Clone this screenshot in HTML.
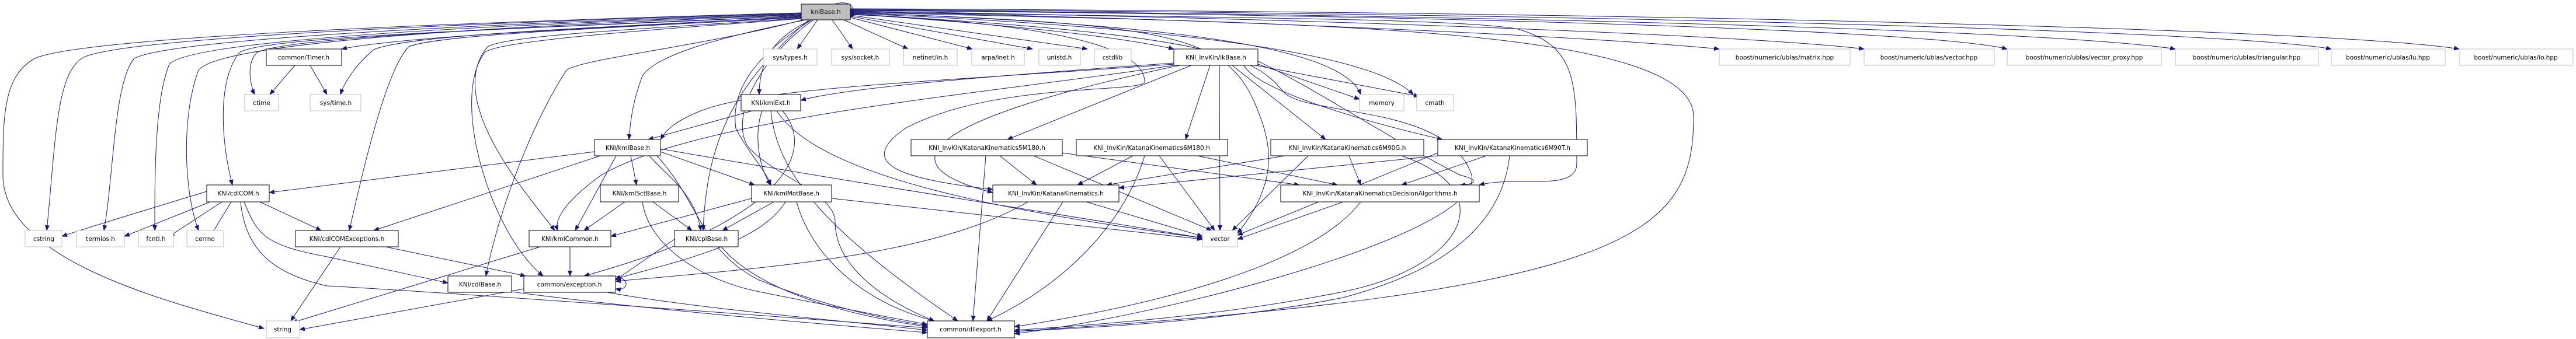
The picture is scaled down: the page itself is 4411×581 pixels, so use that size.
<!DOCTYPE html>
<html><head><meta charset="utf-8"><style>
html,body{margin:0;padding:0;background:#fff;}
svg{display:block;}
text{font-family:"DejaVu Sans","Liberation Sans",sans-serif;font-size:10.5px;fill:#000;text-anchor:middle;}
.e{fill:none;stroke:#191970;stroke-width:1;}
.n{fill:#fff;stroke:#000;stroke-width:1;}
.g{fill:#fff;stroke:#bfbfbf;stroke-width:1;}
</style></head><body>
<svg width="4411" height="581" viewBox="0 0 4411 581" xmlns="http://www.w3.org/2000/svg">
<defs><marker id="a" markerUnits="userSpaceOnUse" markerWidth="10" markerHeight="8" refX="9" refY="4" orient="auto"><path d="M0,0L10,4L0,8z" fill="#191970"/></marker></defs>
<g class="e" marker-end="url(#a)">
<path d="M1372,22C900,35 150,60 60,100C5,130 5,200 5,300C5,450 300,520 452,563"/>
<path d="M1372,23C900,36 200,62 140,100C95,130 95,250 80,395"/>
<path d="M1372,24C900,38 300,64 230,100C195,140 195,300 178,395"/>
<path d="M1372,25C900,40 330,66 290,110C265,170 265,300 265,395"/>
<path d="M1372,26C900,42 380,70 340,120C310,200 315,330 340,395"/>
<path d="M1372,27C1000,44 500,60 440,90C420,110 430,150 436,162"/>
<path d="M1372,28C1100,45 700,60 585,84"/>
<path d="M1372,29C1000,48 700,60 640,85C610,110 590,140 583,162"/>
<path d="M1372,27C1000,46 450,60 410,90C370,140 380,250 398,317"/>
<path d="M1372,30C1000,50 750,60 700,80C660,120 620,300 598,395"/>
<path d="M1372,31C1100,50 870,60 835,80C760,170 900,330 950,395"/>
<path d="M1372,32C1100,52 850,70 830,90C770,170 840,400 930,473"/>
<path d="M1375,34C1200,80 1000,100 970,120C900,230 850,380 832,473"/>
<path d="M1380,34C1200,70 1120,100 1100,130C1085,170 1080,200 1077,239"/>
<path d="M1390,34C1330,60 1300,100 1300,162"/>
<path d="M1390,34C1300,90 1250,150 1260,220C1280,260 1310,290 1320,317"/>
<path d="M1385,34C1250,150 1210,250 1204,395"/>
<path d="M1393,34C1300,100 1250,200 1280,250C1320,300 1430,330 1430,380C1430,450 1500,510 1600,550"/>
<path d="M1400,34L1365,84"/><path d="M1425,34L1460,84"/><path d="M1445,34L1555,84"/>
<path d="M1456,30L1665,84"/><path d="M1456,28L1768,84"/><path d="M1456,26L1862,84"/>
<path d="M1456,24C1700,40 1900,60 2010,84"/>
<path d="M1456,20C2000,30 2700,60 2944,84"/><path d="M1456,19C2200,30 3000,60 3192,84"/>
<path d="M1456,18C2400,25 3300,50 3437,84"/><path d="M1456,17C2500,25 3500,50 3725,84"/>
<path d="M1456,16C2600,22 3800,50 3992,84"/><path d="M1456,15C2800,20 4000,50 4211,84"/>
<path d="M1456,22C2000,40 2300,80 2330,162"/><path d="M1456,23C2000,45 2350,90 2420,162"/>
<path d="M1456,21C2200,40 2900,40 2900,200C2900,400 2800,500 1737,568"/>
<path d="M1456,20C2000,30 2500,30 2600,50C2700,80 2700,140 2700,280C2700,330 2600,300 2533,317"/>
<path d="M1456,25C1800,40 1960,80 1960,140C1960,160 1700,140 1550,220C1450,290 1580,310 1700,325"/>
<path d="M1456,24C2100,60 2150,100 2200,160C2250,200 2480,180 2520,300C2540,400 2000,540 1737,572"/>
<path d="M1456,22C2000,40 2100,60 2150,180C2170,230 2200,300 2119,400"/>
<path d="M1430,7C1450,0 1470,10 1456,30"/>
<path d="M505,112L462,162"/><path d="M531,112L560,162"/>
<path d="M2010,108C1700,130 1450,150 1371,172"/>
<path d="M2010,110C1600,140 1300,150 1200,190C1150,210 1140,225 1131,239"/>
<path d="M2040,112L1725,239"/><path d="M2072,112L2030,239"/><path d="M2110,112L2270,239"/>
<path d="M2130,112C2150,150 2300,200 2470,239"/><path d="M2088,112L2089,395"/>
<path d="M2154,110L2328,170"/><path d="M2150,112L2430,165"/>
<path d="M2020,112C1600,200 1500,280 1700,330"/>
<path d="M2154,105C2250,150 2400,250 2500,300C2540,310 2520,317 2500,317"/>
<path d="M2010,112C1700,160 1200,200 1030,300C960,350 950,380 955,395"/>
<path d="M1288,190L1110,239"/><path d="M1305,190C1290,230 1300,290 1320,317"/>
<path d="M1320,190C1330,300 1420,400 1640,550"/><path d="M1330,190C1400,300 1700,360 2060,408"/>
<path d="M1340,190C1400,260 1340,380 1000,473"/>
<path d="M1018,260L461,330"/><path d="M1028,267L640,395"/><path d="M1055,267L985,395"/>
<path d="M1080,267L1090,317"/><path d="M1112,267C1140,300 1190,330 1200,395"/>
<path d="M1131,260L1292,317"/><path d="M1131,255C1500,320 1900,380 2059,408"/>
<path d="M1125,267C1200,350 1200,430 1300,480C1400,520 1500,545 1588,558"/>
<path d="M354,328C250,360 150,390 106,405"/><path d="M360,346L213,405"/>
<path d="M380,346L290,405"/><path d="M396,346L360,405"/><path d="M445,346L550,395"/>
<path d="M418,346C440,400 450,420 560,440C650,460 700,470 767,485"/>
<path d="M412,346C420,430 470,470 560,490C750,500 1300,540 1588,562"/>
<path d="M1070,346L1000,395"/><path d="M1118,346L1185,395"/>
<path d="M1100,346C1110,420 1200,480 1300,500C1400,520 1500,540 1588,556"/>
<path d="M1287,340L1046,405"/><path d="M1325,346L1237,395"/>
<path d="M1345,346C1300,420 1150,450 1054,478"/><path d="M1364,346C1390,440 1480,520 1600,550"/>
<path d="M1424,340L2059,410"/>
<path d="M1155,410L1054,480"/><path d="M1235,423C1300,500 1450,540 1588,560"/>
<path d="M583,423L498,550"/><path d="M660,423L900,473"/>
<path d="M925,423L500,553"/><path d="M976,423L976,473"/>
<path d="M897,495L513,565"/><path d="M1040,501C1200,530 1450,550 1588,566"/>
<path d="M1040,473C1080,470 1080,500 1054,495"/>
<path d="M876,500C1100,530 1400,555 1588,570"/>
<path d="M1712,267L1775,317"/><path d="M1688,267L1666,550"/>
<path d="M1770,267L2075,395"/><path d="M1819,262L2225,317"/>
<path d="M1940,267L1845,317"/><path d="M1985,267L2080,395"/>
<path d="M1960,267C1920,400 1800,500 1690,550"/><path d="M2050,267L2290,317"/>
<path d="M2200,267L1895,317"/><path d="M2240,267L2110,395"/>
<path d="M2310,267L2330,317"/><path d="M2400,267C2580,330 2500,460 2300,500C2100,540 1900,555 1737,566"/>
<path d="M2462,267L1916,322"/><path d="M2545,267L2400,317"/>
<path d="M2585,267C2570,400 2450,470 2300,510C2100,550 1900,560 1737,568"/>
<path d="M2462,262L2119,403"/>
<path d="M1860,346L2059,405"/><path d="M1820,346L1690,550"/><path d="M1760,346C1600,440 1300,460 1054,482"/>
<path d="M2300,346L2119,410"/><path d="M2330,346C2250,450 2000,520 1737,560"/>
</g>
<rect x="1372" y="7" width="84" height="27" fill="#bfbfbf" stroke="#000"/><text x="1414" y="24">kniBase.h</text>
<g class="n">
<rect x="456" y="84" width="129" height="28"/><rect x="2010" y="84" width="144" height="28"/>
<rect x="1269" y="162" width="102" height="28"/><rect x="1018" y="239" width="113" height="28"/>
<rect x="1560" y="239" width="259" height="28"/><rect x="1843" y="239" width="259" height="28"/>
<rect x="2176" y="239" width="262" height="28"/><rect x="2462" y="239" width="256" height="28"/>
<rect x="354" y="317" width="107" height="29"/><rect x="1028" y="317" width="134" height="29"/>
<rect x="1287" y="317" width="137" height="29"/><rect x="1700" y="317" width="216" height="29"/>
<rect x="2193" y="317" width="340" height="29"/>
<rect x="506" y="395" width="176" height="28"/><rect x="906" y="395" width="140" height="28"/>
<rect x="1155" y="395" width="109" height="28"/>
<rect x="767" y="473" width="109" height="28"/><rect x="897" y="473" width="157" height="28"/>
<rect x="1588" y="550" width="149" height="29"/>
</g>
<g class="g">
<rect x="419" y="162" width="58" height="28"/><rect x="531" y="162" width="87" height="28"/>
<rect x="43" y="395" width="63" height="28"/><rect x="131" y="395" width="82" height="28"/>
<rect x="237" y="395" width="60" height="28"/><rect x="320" y="395" width="63" height="28"/>
<rect x="456" y="550" width="57" height="29"/>
<rect x="1307" y="84" width="92" height="28"/><rect x="1424" y="84" width="99" height="28"/>
<rect x="1547" y="84" width="92" height="28"/><rect x="1664" y="84" width="90" height="28"/>
<rect x="1779" y="84" width="71" height="28"/><rect x="1874" y="84" width="63" height="28"/>
<rect x="2328" y="162" width="76" height="28"/><rect x="2426" y="162" width="63" height="28"/>
<rect x="2059" y="395" width="60" height="28"/>
<rect x="2944" y="84" width="224" height="28"/><rect x="3192" y="84" width="223" height="28"/>
<rect x="3437" y="84" width="264" height="28"/><rect x="3725" y="84" width="245" height="28"/>
<rect x="3992" y="84" width="195" height="28"/><rect x="4211" y="84" width="195" height="28"/>
</g>
<text x="520" y="102">common/Timer.h</text><text x="2082" y="102">KNI_InvKin/ikBase.h</text>
<text x="1320" y="180">KNI/kmlExt.h</text><text x="1075" y="257">KNI/kmlBase.h</text>
<text x="1690" y="257">KNI_InvKin/KatanaKinematics5M180.h</text><text x="1972" y="257">KNI_InvKin/KatanaKinematics6M180.h</text>
<text x="2307" y="257">KNI_InvKin/KatanaKinematics6M90G.h</text><text x="2590" y="257">KNI_InvKin/KatanaKinematics6M90T.h</text>
<text x="408" y="335">KNI/cdlCOM.h</text><text x="1095" y="335">KNI/kmlSctBase.h</text>
<text x="1355" y="335">KNI/kmlMotBase.h</text><text x="1808" y="335">KNI_InvKin/KatanaKinematics.h</text>
<text x="2363" y="335">KNI_InvKin/KatanaKinematicsDecisionAlgorithms.h</text>
<text x="594" y="413">KNI/cdlCOMExceptions.h</text><text x="976" y="413">KNI/kmlCommon.h</text>
<text x="1210" y="413">KNI/cplBase.h</text>
<text x="822" y="491">KNI/cdlBase.h</text><text x="975" y="491">common/exception.h</text>
<text x="1662" y="568">common/dllexport.h</text>
<text x="448" y="180">ctime</text><text x="575" y="180">sys/time.h</text>
<text x="75" y="413">cstring</text><text x="172" y="413">termios.h</text><text x="267" y="413">fcntl.h</text><text x="351" y="413">cerrno</text>
<text x="484" y="568">string</text>
<text x="1353" y="102">sys/types.h</text><text x="1473" y="102">sys/socket.h</text><text x="1593" y="102">netinet/in.h</text>
<text x="1709" y="102">arpa/inet.h</text><text x="1814" y="102">unistd.h</text><text x="1905" y="102">cstdlib</text>
<text x="2366" y="180">memory</text><text x="2457" y="180">cmath</text><text x="2089" y="413">vector</text>
<text x="3056" y="102">boost/numeric/ublas/matrix.hpp</text><text x="3303" y="102">boost/numeric/ublas/vector.hpp</text>
<text x="3569" y="102">boost/numeric/ublas/vector_proxy.hpp</text><text x="3847" y="102">boost/numeric/ublas/triangular.hpp</text>
<text x="4089" y="102">boost/numeric/ublas/lu.hpp</text><text x="4308" y="102">boost/numeric/ublas/io.hpp</text>
</svg>
</body></html>
